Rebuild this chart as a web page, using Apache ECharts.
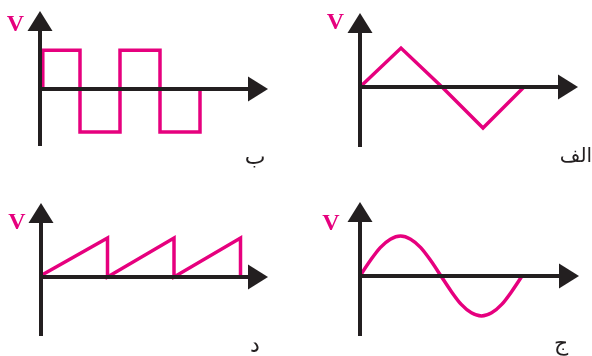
<!DOCTYPE html>
<html>
<head>
<meta charset="utf-8">
<script src="https://cdn.jsdelivr.net/npm/echarts@6/dist/echarts.min.js"></script>
<style>
html,body{margin:0;padding:0;background:#fff;}
#c{width:592px;height:356px;}
</style>
</head>
<body>
<div id="c"></div>
<script>
// Panel labels
const panelLabels = ['ب', 'الف', 'د', 'ج'];
const axisLabel = 'V';

// ب : square wave (x in half-periods, y in amplitude units)
const squareX = [0.07, 0.07, 1, 1, 2, 2, 3, 3, 4, 4];
const squareY = [0, 0.9, 0.9, -1, -1, 0.9, 0.9, -1, -1, 0];

// الف : triangle wave (x in quarter-periods)
const triX = [0, 1, 2, 3, 4];
const triY = [0, 0.95, 0, -1, 0];

// د : sawtooth (x in periods)
const sawX = [0, 1, 1, 2, 2, 3, 3];
const sawY = [0.04, 1, 0, 1, 0, 1, 0.03];

// ج : sine wave (x in quarter-periods)
const sineX = [0, 0.25, 0.5, 0.75, 1, 1.25, 1.5, 1.75, 2, 2.25, 2.5, 2.75, 3, 3.25, 3.5, 3.75, 4];
const sineY = [0, 0.38, 0.71, 0.92, 1, 0.92, 0.71, 0.38, 0, -0.38, -0.71, -0.92, -1, -0.92, -0.71, -0.38, 0];

const PINK = '#e6007e';
const DARK = '#231f20';

function pairs(xs, ys) { return xs.map((x, i) => [x, ys[i]]); }

const panels = [
  { grid: { left: 40, top: 21, width: 218, height: 125 }, x: [0, 218 / 40], y: [-57 / 43, 68 / 43], data: pairs(squareX, squareY), smooth: false },
  { grid: { left: 360, top: 23, width: 208, height: 124 }, x: [0, 208 / 41], y: [-60 / 41, 64 / 41], data: pairs(triX, triY), smooth: false },
  { grid: { left: 41, top: 213, width: 217, height: 123 }, x: [0, 217 / 66.5], y: [-59 / 39, 64 / 39], data: pairs(sawX, sawY), smooth: false },
  { grid: { left: 360, top: 212, width: 209, height: 124 }, x: [0, 209 / 40.5], y: [-60 / 40, 64 / 40], data: pairs(sineX, sineY), smooth: 0.3 }
];

const axisLineStyle = {
  show: true,
  onZero: true,
  symbol: ['none', 'triangle'],
  symbolSize: [25, 20],
  lineStyle: { color: DARK, width: 4, cap: 'butt' }
};

const vStyle = { fill: PINK, fontFamily: 'Liberation Serif', fontWeight: 'bold', fontSize: 24, align: 'center', verticalAlign: 'middle' };
const arStyle = { fill: DARK, fontFamily: 'DejaVu Sans', fontSize: 22, align: 'center', verticalAlign: 'middle' };

const option = {
  animation: false,
  backgroundColor: '#ffffff',
  grid: panels.map(p => Object.assign({ containLabel: false }, p.grid)),
  xAxis: panels.map((p, i) => ({
    type: 'value', gridIndex: i, min: p.x[0], max: p.x[1], z: 5,
    axisLine: axisLineStyle, axisTick: { show: false }, axisLabel: { show: false }, splitLine: { show: false }
  })),
  yAxis: panels.map((p, i) => ({
    type: 'value', gridIndex: i, min: p.y[0], max: p.y[1], z: 5,
    axisLine: axisLineStyle, axisTick: { show: false }, axisLabel: { show: false }, splitLine: { show: false }
  })),
  series: panels.map((p, i) => ({
    type: 'line', xAxisIndex: i, yAxisIndex: i, data: p.data,
    symbol: 'none', smooth: p.smooth, z: 2,
    lineStyle: { color: PINK, width: 3.5, join: 'miter' }
  })),
  graphic: [
    { type: 'text', x: 15.5, y: 25, style: Object.assign({ text: axisLabel }, vStyle) },
    { type: 'text', x: 335.5, y: 22.5, style: Object.assign({ text: axisLabel }, vStyle) },
    { type: 'text', x: 17, y: 223, style: Object.assign({ text: axisLabel }, vStyle) },
    { type: 'text', x: 331, y: 224, style: Object.assign({ text: axisLabel }, vStyle) },
    { type: 'text', x: 255, y: 158, style: Object.assign({ text: panelLabels[0] }, arStyle) },
    { type: 'text', x: 576, y: 157, style: Object.assign({ text: panelLabels[1] }, arStyle, { fontSize: 20 }) },
    { type: 'text', x: 255, y: 346, style: Object.assign({ text: panelLabels[2] }, arStyle) },
    { type: 'text', x: 561, y: 344, style: Object.assign({ text: panelLabels[3] }, arStyle) }
  ]
};

const chart = echarts.init(document.getElementById('c'), null, { renderer: 'canvas' });
chart.setOption(option);
</script>
</body>
</html>
